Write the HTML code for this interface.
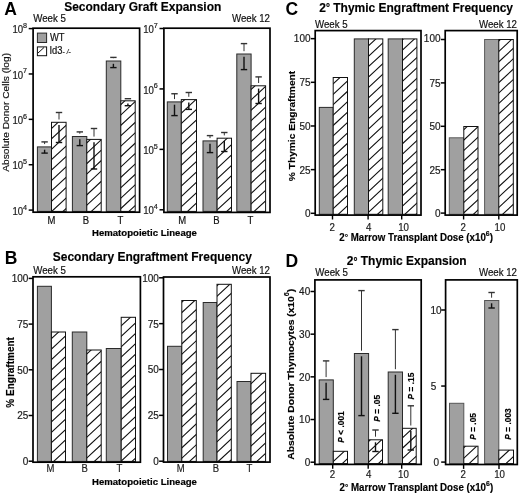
<!DOCTYPE html>
<html><head><meta charset="utf-8"><style>
html,body{margin:0;padding:0;background:#fff;}
svg{display:block;will-change:transform;filter:blur(0.3px);}
text{font-family:"Liberation Sans", sans-serif;}
</style></head><body>
<svg width="520" height="496" viewBox="0 0 520 496">
<defs><clipPath id="c1"><rect x="51.50" y="122.30" width="14.60" height="89.10"/></clipPath><clipPath id="c2"><rect x="86.80" y="139.40" width="14.40" height="72.00"/></clipPath><clipPath id="c3"><rect x="120.80" y="100.80" width="14.40" height="110.60"/></clipPath><clipPath id="c4"><rect x="181.30" y="99.60" width="15.20" height="111.80"/></clipPath><clipPath id="c5"><rect x="217.10" y="138.20" width="14.40" height="73.20"/></clipPath><clipPath id="c6"><rect x="251.10" y="85.80" width="14.50" height="125.60"/></clipPath><clipPath id="c7"><rect x="51.40" y="332.00" width="14.10" height="129.40"/></clipPath><clipPath id="c8"><rect x="86.80" y="350.00" width="14.40" height="111.40"/></clipPath><clipPath id="c9"><rect x="121.20" y="317.30" width="14.30" height="144.10"/></clipPath><clipPath id="c10"><rect x="181.80" y="300.50" width="14.50" height="160.90"/></clipPath><clipPath id="c11"><rect x="217.00" y="284.30" width="14.30" height="177.10"/></clipPath><clipPath id="c12"><rect x="251.00" y="373.30" width="14.60" height="88.10"/></clipPath><clipPath id="c13"><rect x="333.20" y="77.50" width="14.30" height="136.80"/></clipPath><clipPath id="c14"><rect x="368.50" y="38.90" width="14.30" height="175.40"/></clipPath><clipPath id="c15"><rect x="402.50" y="38.90" width="14.40" height="175.40"/></clipPath><clipPath id="c16"><rect x="463.80" y="126.50" width="14.20" height="87.80"/></clipPath><clipPath id="c17"><rect x="498.80" y="39.50" width="14.50" height="174.80"/></clipPath><clipPath id="c18"><rect x="333.30" y="451.30" width="14.20" height="12.30"/></clipPath><clipPath id="c19"><rect x="368.60" y="439.80" width="13.90" height="23.80"/></clipPath><clipPath id="c20"><rect x="402.50" y="428.30" width="13.70" height="35.30"/></clipPath><clipPath id="c21"><rect x="463.80" y="446.20" width="14.20" height="17.40"/></clipPath><clipPath id="c22"><rect x="498.80" y="450.10" width="14.70" height="13.50"/></clipPath></defs>
<rect width="520" height="496" fill="#fff"/>
<text transform="translate(4.30 15.00)" font-size="17.5" font-weight="bold" fill="#000">A</text>
<text transform="translate(64.20 10.90) scale(1.0 1.08)" font-size="12.0" font-weight="bold" stroke="#000" stroke-width="0.15" fill="#000">Secondary Graft Expansion</text>
<text transform="translate(33.20 21.60) scale(1.0 1.18)" font-size="9.7" stroke="#111" stroke-width="0.18" fill="#111">Week 5</text>
<text transform="translate(270.00 21.80) scale(1.0 1.18)" font-size="9.7" stroke="#111" stroke-width="0.18" text-anchor="end" fill="#111">Week 12</text>
<text transform="translate(9.30 112.40) rotate(-90) scale(1.0 0.9)" font-size="10.2" stroke="#111" stroke-width="0.18" text-anchor="middle" fill="#111">Absolute Donor Cells (log)</text>
<text transform="translate(92.00 236.30) scale(1.0 1.04)" font-size="9.6" font-weight="bold" fill="#000" stroke="#000" stroke-width="0.2">Hematopoietic Lineage</text>
<rect x="37.40" y="146.90" width="14.10" height="64.50" fill="#a0a0a0" stroke="#2a2a2a" stroke-width="1.0"/>
<rect x="51.50" y="122.30" width="14.60" height="89.10" fill="#fff"/>
<path clip-path="url(#c1)" d="M50.50 118.97L67.10 103.54M50.50 129.37L67.10 113.94M50.50 139.77L67.10 124.34M50.50 150.17L67.10 134.74M50.50 160.57L67.10 145.14M50.50 170.97L67.10 155.54M50.50 181.37L67.10 165.94M50.50 191.77L67.10 176.34M50.50 202.17L67.10 186.74M50.50 212.57L67.10 197.14M50.50 222.97L67.10 207.54M50.50 233.37L67.10 217.94" stroke="#111" stroke-width="1.1" fill="none"/>
<rect x="51.50" y="122.30" width="14.60" height="89.10" fill="none" stroke="#111" stroke-width="1.0"/>
<rect x="72.40" y="136.50" width="14.40" height="74.90" fill="#a0a0a0" stroke="#2a2a2a" stroke-width="1.0"/>
<rect x="86.80" y="139.40" width="14.40" height="72.00" fill="#fff"/>
<path clip-path="url(#c2)" d="M85.80 133.36L102.20 118.11M85.80 143.76L102.20 128.51M85.80 154.16L102.20 138.91M85.80 164.56L102.20 149.31M85.80 174.96L102.20 159.71M85.80 185.36L102.20 170.11M85.80 195.76L102.20 180.51M85.80 206.16L102.20 190.91M85.80 216.56L102.20 201.31M85.80 226.96L102.20 211.71" stroke="#111" stroke-width="1.1" fill="none"/>
<rect x="86.80" y="139.40" width="14.40" height="72.00" fill="none" stroke="#111" stroke-width="1.0"/>
<rect x="106.30" y="61.00" width="14.50" height="150.40" fill="#a0a0a0" stroke="#2a2a2a" stroke-width="1.0"/>
<rect x="120.80" y="100.80" width="14.40" height="110.60" fill="#fff"/>
<path clip-path="url(#c3)" d="M119.80 95.10L136.20 79.85M119.80 105.50L136.20 90.25M119.80 115.90L136.20 100.65M119.80 126.30L136.20 111.05M119.80 136.70L136.20 121.45M119.80 147.10L136.20 131.85M119.80 157.50L136.20 142.25M119.80 167.90L136.20 152.65M119.80 178.30L136.20 163.05M119.80 188.70L136.20 173.45M119.80 199.10L136.20 183.85M119.80 209.50L136.20 194.25M119.80 219.90L136.20 204.65M119.80 230.30L136.20 215.05" stroke="#111" stroke-width="1.1" fill="none"/>
<rect x="120.80" y="100.80" width="14.40" height="110.60" fill="none" stroke="#111" stroke-width="1.0"/>
<line x1="44.60" y1="141.90" x2="44.60" y2="144.10" stroke="#333" stroke-width="1.0"/>
<line x1="41.40" y1="141.90" x2="47.80" y2="141.90" stroke="#333" stroke-width="1.4"/>
<line x1="44.60" y1="149.70" x2="44.60" y2="153.10" stroke="#111" stroke-width="1.4"/>
<line x1="41.40" y1="153.10" x2="47.80" y2="153.10" stroke="#111" stroke-width="1.4"/>
<line x1="59.00" y1="112.50" x2="59.00" y2="119.50" stroke="#333" stroke-width="1.0"/>
<line x1="55.80" y1="112.50" x2="62.20" y2="112.50" stroke="#333" stroke-width="1.4"/>
<line x1="59.00" y1="125.10" x2="59.00" y2="142.50" stroke="#111" stroke-width="1.4"/>
<line x1="55.80" y1="142.50" x2="62.20" y2="142.50" stroke="#111" stroke-width="1.4"/>
<line x1="79.80" y1="131.90" x2="79.80" y2="133.70" stroke="#333" stroke-width="1.0"/>
<line x1="76.60" y1="131.90" x2="83.00" y2="131.90" stroke="#333" stroke-width="1.4"/>
<line x1="79.80" y1="139.30" x2="79.80" y2="145.60" stroke="#111" stroke-width="1.4"/>
<line x1="76.60" y1="145.60" x2="83.00" y2="145.60" stroke="#111" stroke-width="1.4"/>
<line x1="94.00" y1="128.50" x2="94.00" y2="136.60" stroke="#333" stroke-width="1.0"/>
<line x1="90.80" y1="128.50" x2="97.20" y2="128.50" stroke="#333" stroke-width="1.4"/>
<line x1="94.00" y1="142.20" x2="94.00" y2="169.00" stroke="#111" stroke-width="1.4"/>
<line x1="90.80" y1="169.00" x2="97.20" y2="169.00" stroke="#111" stroke-width="1.4"/>
<line x1="113.40" y1="57.40" x2="113.40" y2="58.20" stroke="#333" stroke-width="1.0"/>
<line x1="110.20" y1="57.40" x2="116.60" y2="57.40" stroke="#333" stroke-width="1.4"/>
<line x1="113.40" y1="63.80" x2="113.40" y2="67.60" stroke="#111" stroke-width="1.4"/>
<line x1="110.20" y1="67.60" x2="116.60" y2="67.60" stroke="#111" stroke-width="1.4"/>
<line x1="124.70" y1="98.70" x2="131.10" y2="98.70" stroke="#333" stroke-width="1.4"/>
<line x1="127.90" y1="103.60" x2="127.90" y2="105.70" stroke="#111" stroke-width="1.4"/>
<line x1="124.70" y1="105.70" x2="131.10" y2="105.70" stroke="#111" stroke-width="1.4"/>
<rect x="33.10" y="28.20" width="106.50" height="184.00" fill="none" stroke="#000" stroke-width="1.7"/>
<line x1="28.70" y1="210.10" x2="33.10" y2="210.10" stroke="#000" stroke-width="1.5"/>
<text transform="translate(23.10 214.70) scale(1.0 1.1)" font-size="9.6" stroke="#1a1a1a" stroke-width="0.18" text-anchor="end" fill="#1a1a1a">10</text>
<text transform="translate(22.90 209.60) scale(1.0 1.08)" font-size="7.2" stroke="#1a1a1a" stroke-width="0.18" fill="#1a1a1a">4</text>
<line x1="28.70" y1="164.72" x2="33.10" y2="164.72" stroke="#000" stroke-width="1.5"/>
<text transform="translate(23.10 169.32) scale(1.0 1.1)" font-size="9.6" stroke="#1a1a1a" stroke-width="0.18" text-anchor="end" fill="#1a1a1a">10</text>
<text transform="translate(22.90 164.22) scale(1.0 1.08)" font-size="7.2" stroke="#1a1a1a" stroke-width="0.18" fill="#1a1a1a">5</text>
<line x1="28.70" y1="119.35" x2="33.10" y2="119.35" stroke="#000" stroke-width="1.5"/>
<text transform="translate(23.10 123.95) scale(1.0 1.1)" font-size="9.6" stroke="#1a1a1a" stroke-width="0.18" text-anchor="end" fill="#1a1a1a">10</text>
<text transform="translate(22.90 118.85) scale(1.0 1.08)" font-size="7.2" stroke="#1a1a1a" stroke-width="0.18" fill="#1a1a1a">6</text>
<line x1="28.70" y1="73.97" x2="33.10" y2="73.97" stroke="#000" stroke-width="1.5"/>
<text transform="translate(23.10 78.57) scale(1.0 1.1)" font-size="9.6" stroke="#1a1a1a" stroke-width="0.18" text-anchor="end" fill="#1a1a1a">10</text>
<text transform="translate(22.90 73.47) scale(1.0 1.08)" font-size="7.2" stroke="#1a1a1a" stroke-width="0.18" fill="#1a1a1a">7</text>
<line x1="28.70" y1="28.60" x2="33.10" y2="28.60" stroke="#000" stroke-width="1.5"/>
<text transform="translate(23.10 33.20) scale(1.0 1.1)" font-size="9.6" stroke="#1a1a1a" stroke-width="0.18" text-anchor="end" fill="#1a1a1a">10</text>
<text transform="translate(22.90 28.10) scale(1.0 1.08)" font-size="7.2" stroke="#1a1a1a" stroke-width="0.18" fill="#1a1a1a">8</text>
<text transform="translate(51.40 224.30) scale(1.0 1.08)" font-size="9.5" stroke="#111" stroke-width="0.18" text-anchor="middle" fill="#111">M</text>
<text transform="translate(85.80 224.30) scale(1.0 1.08)" font-size="9.5" stroke="#111" stroke-width="0.18" text-anchor="middle" fill="#111">B</text>
<text transform="translate(120.30 224.30) scale(1.0 1.08)" font-size="9.5" stroke="#111" stroke-width="0.18" text-anchor="middle" fill="#111">T</text>
<rect x="37.40" y="33.10" width="9.20" height="9.40" fill="#a0a0a0" stroke="#2a2a2a" stroke-width="1.0"/>
<rect x="37.40" y="46.90" width="9.20" height="8.80" fill="#fff" stroke="#111" stroke-width="1.0"/>
<line x1="38.00" y1="53.00" x2="44.00" y2="47.50" stroke="#111" stroke-width="1.0"/>
<text transform="translate(49.90 41.10) scale(1.0 1.12)" font-size="9.4" stroke="#111" stroke-width="0.18" fill="#111">WT</text>
<text transform="translate(49.40 53.90) scale(1.0 1.12)" font-size="9.4" stroke="#111" stroke-width="0.18" fill="#111">Id3</text>
<text transform="translate(62.60 53.90) scale(1.0 1.08)" font-size="6.5" stroke="#111" stroke-width="0.18" fill="#111" font-style="italic">-</text>
<text transform="translate(66.80 53.90) scale(1.0 1.08)" font-size="6.5" stroke="#111" stroke-width="0.18" fill="#111" font-style="italic">/</text>
<text transform="translate(68.40 53.90) scale(1.0 1.08)" font-size="6.5" stroke="#111" stroke-width="0.18" fill="#111" font-style="italic">-</text>
<rect x="167.30" y="101.90" width="14.00" height="109.50" fill="#a0a0a0" stroke="#2a2a2a" stroke-width="1.0"/>
<rect x="181.30" y="99.60" width="15.20" height="111.80" fill="#fff"/>
<path clip-path="url(#c4)" d="M180.30 93.32L197.50 77.33M180.30 103.72L197.50 87.73M180.30 114.12L197.50 98.13M180.30 124.52L197.50 108.53M180.30 134.92L197.50 118.93M180.30 145.32L197.50 129.33M180.30 155.72L197.50 139.73M180.30 166.12L197.50 150.13M180.30 176.52L197.50 160.53M180.30 186.92L197.50 170.93M180.30 197.32L197.50 181.33M180.30 207.72L197.50 191.73M180.30 218.12L197.50 202.13M180.30 228.52L197.50 212.53" stroke="#111" stroke-width="1.1" fill="none"/>
<rect x="181.30" y="99.60" width="15.20" height="111.80" fill="none" stroke="#111" stroke-width="1.0"/>
<rect x="203.00" y="140.90" width="14.10" height="70.50" fill="#a0a0a0" stroke="#2a2a2a" stroke-width="1.0"/>
<rect x="217.10" y="138.20" width="14.40" height="73.20" fill="#fff"/>
<path clip-path="url(#c5)" d="M216.10 138.14L232.50 122.89M216.10 148.54L232.50 133.29M216.10 158.94L232.50 143.69M216.10 169.34L232.50 154.09M216.10 179.74L232.50 164.49M216.10 190.14L232.50 174.89M216.10 200.54L232.50 185.29M216.10 210.94L232.50 195.69M216.10 221.34L232.50 206.09M216.10 231.74L232.50 216.49" stroke="#111" stroke-width="1.1" fill="none"/>
<rect x="217.10" y="138.20" width="14.40" height="73.20" fill="none" stroke="#111" stroke-width="1.0"/>
<rect x="236.80" y="54.00" width="14.30" height="157.40" fill="#a0a0a0" stroke="#2a2a2a" stroke-width="1.0"/>
<rect x="251.10" y="85.80" width="14.50" height="125.60" fill="#fff"/>
<path clip-path="url(#c6)" d="M250.10 79.98L266.60 64.64M250.10 90.38L266.60 75.04M250.10 100.78L266.60 85.44M250.10 111.18L266.60 95.84M250.10 121.58L266.60 106.24M250.10 131.98L266.60 116.64M250.10 142.38L266.60 127.04M250.10 152.78L266.60 137.44M250.10 163.18L266.60 147.84M250.10 173.58L266.60 158.24M250.10 183.98L266.60 168.64M250.10 194.38L266.60 179.04M250.10 204.78L266.60 189.44M250.10 215.18L266.60 199.84M250.10 225.58L266.60 210.24M250.10 235.98L266.60 220.64" stroke="#111" stroke-width="1.1" fill="none"/>
<rect x="251.10" y="85.80" width="14.50" height="125.60" fill="none" stroke="#111" stroke-width="1.0"/>
<line x1="174.50" y1="93.75" x2="174.50" y2="99.10" stroke="#333" stroke-width="1.0"/>
<line x1="171.30" y1="93.75" x2="177.70" y2="93.75" stroke="#333" stroke-width="1.4"/>
<line x1="174.50" y1="104.70" x2="174.50" y2="115.60" stroke="#111" stroke-width="1.4"/>
<line x1="171.30" y1="115.60" x2="177.70" y2="115.60" stroke="#111" stroke-width="1.4"/>
<line x1="188.80" y1="92.50" x2="188.80" y2="96.80" stroke="#333" stroke-width="1.0"/>
<line x1="185.60" y1="92.50" x2="192.00" y2="92.50" stroke="#333" stroke-width="1.4"/>
<line x1="188.80" y1="102.40" x2="188.80" y2="109.40" stroke="#111" stroke-width="1.4"/>
<line x1="185.60" y1="109.40" x2="192.00" y2="109.40" stroke="#111" stroke-width="1.4"/>
<line x1="210.00" y1="135.60" x2="210.00" y2="138.10" stroke="#333" stroke-width="1.0"/>
<line x1="206.80" y1="135.60" x2="213.20" y2="135.60" stroke="#333" stroke-width="1.4"/>
<line x1="210.00" y1="143.70" x2="210.00" y2="152.60" stroke="#111" stroke-width="1.4"/>
<line x1="206.80" y1="152.60" x2="213.20" y2="152.60" stroke="#111" stroke-width="1.4"/>
<line x1="224.30" y1="132.50" x2="224.30" y2="135.40" stroke="#333" stroke-width="1.0"/>
<line x1="221.10" y1="132.50" x2="227.50" y2="132.50" stroke="#333" stroke-width="1.4"/>
<line x1="224.30" y1="141.00" x2="224.30" y2="151.50" stroke="#111" stroke-width="1.4"/>
<line x1="221.10" y1="151.50" x2="227.50" y2="151.50" stroke="#111" stroke-width="1.4"/>
<line x1="244.00" y1="43.60" x2="244.00" y2="51.20" stroke="#333" stroke-width="1.0"/>
<line x1="240.80" y1="43.60" x2="247.20" y2="43.60" stroke="#333" stroke-width="1.4"/>
<line x1="244.00" y1="56.80" x2="244.00" y2="69.60" stroke="#111" stroke-width="1.4"/>
<line x1="240.80" y1="69.60" x2="247.20" y2="69.60" stroke="#111" stroke-width="1.4"/>
<line x1="258.60" y1="76.90" x2="258.60" y2="83.00" stroke="#333" stroke-width="1.0"/>
<line x1="255.40" y1="76.90" x2="261.80" y2="76.90" stroke="#333" stroke-width="1.4"/>
<line x1="258.60" y1="88.60" x2="258.60" y2="103.50" stroke="#111" stroke-width="1.4"/>
<line x1="255.40" y1="103.50" x2="261.80" y2="103.50" stroke="#111" stroke-width="1.4"/>
<rect x="163.90" y="28.20" width="106.10" height="184.20" fill="none" stroke="#000" stroke-width="1.7"/>
<line x1="159.50" y1="209.80" x2="163.90" y2="209.80" stroke="#000" stroke-width="1.5"/>
<text transform="translate(153.90 214.40) scale(1.0 1.1)" font-size="9.6" stroke="#1a1a1a" stroke-width="0.18" text-anchor="end" fill="#1a1a1a">10</text>
<text transform="translate(153.70 209.30) scale(1.0 1.08)" font-size="7.2" stroke="#1a1a1a" stroke-width="0.18" fill="#1a1a1a">4</text>
<line x1="159.50" y1="149.37" x2="163.90" y2="149.37" stroke="#000" stroke-width="1.5"/>
<text transform="translate(153.90 153.97) scale(1.0 1.1)" font-size="9.6" stroke="#1a1a1a" stroke-width="0.18" text-anchor="end" fill="#1a1a1a">10</text>
<text transform="translate(153.70 148.87) scale(1.0 1.08)" font-size="7.2" stroke="#1a1a1a" stroke-width="0.18" fill="#1a1a1a">5</text>
<line x1="159.50" y1="88.93" x2="163.90" y2="88.93" stroke="#000" stroke-width="1.5"/>
<text transform="translate(153.90 93.53) scale(1.0 1.1)" font-size="9.6" stroke="#1a1a1a" stroke-width="0.18" text-anchor="end" fill="#1a1a1a">10</text>
<text transform="translate(153.70 88.43) scale(1.0 1.08)" font-size="7.2" stroke="#1a1a1a" stroke-width="0.18" fill="#1a1a1a">6</text>
<line x1="159.50" y1="28.50" x2="163.90" y2="28.50" stroke="#000" stroke-width="1.5"/>
<text transform="translate(153.90 33.10) scale(1.0 1.1)" font-size="9.6" stroke="#1a1a1a" stroke-width="0.18" text-anchor="end" fill="#1a1a1a">10</text>
<text transform="translate(153.70 28.00) scale(1.0 1.08)" font-size="7.2" stroke="#1a1a1a" stroke-width="0.18" fill="#1a1a1a">7</text>
<text transform="translate(182.20 224.30) scale(1.0 1.08)" font-size="9.5" stroke="#111" stroke-width="0.18" text-anchor="middle" fill="#111">M</text>
<text transform="translate(216.30 224.30) scale(1.0 1.08)" font-size="9.5" stroke="#111" stroke-width="0.18" text-anchor="middle" fill="#111">B</text>
<text transform="translate(250.50 224.30) scale(1.0 1.08)" font-size="9.5" stroke="#111" stroke-width="0.18" text-anchor="middle" fill="#111">T</text>
<text transform="translate(4.80 264.20)" font-size="17.5" font-weight="bold" fill="#000">B</text>
<text transform="translate(52.80 261.40) scale(1.0 1.08)" font-size="12.0" font-weight="bold" stroke="#000" stroke-width="0.15" fill="#000">Secondary Engraftment Frequency</text>
<text transform="translate(33.20 274.00) scale(1.0 1.18)" font-size="9.7" stroke="#111" stroke-width="0.18" fill="#111">Week 5</text>
<text transform="translate(270.00 274.00) scale(1.0 1.18)" font-size="9.7" stroke="#111" stroke-width="0.18" text-anchor="end" fill="#111">Week 12</text>
<text transform="translate(13.90 372.40) rotate(-90)" font-size="10" font-weight="bold" stroke="#000" stroke-width="0.15" text-anchor="middle" fill="#000">% Engraftment</text>
<text transform="translate(92.00 485.00) scale(1.0 1.04)" font-size="9.6" font-weight="bold" fill="#000" stroke="#000" stroke-width="0.2">Hematopoietic Lineage</text>
<rect x="37.40" y="286.30" width="14.00" height="175.10" fill="#a0a0a0" stroke="#2a2a2a" stroke-width="1.0"/>
<rect x="51.40" y="332.00" width="14.10" height="129.40" fill="#fff"/>
<path clip-path="url(#c7)" d="M50.40 329.27L66.50 314.29M50.40 339.67L66.50 324.69M50.40 350.07L66.50 335.09M50.40 360.47L66.50 345.49M50.40 370.87L66.50 355.89M50.40 381.27L66.50 366.29M50.40 391.67L66.50 376.69M50.40 402.07L66.50 387.09M50.40 412.47L66.50 397.49M50.40 422.87L66.50 407.89M50.40 433.27L66.50 418.29M50.40 443.67L66.50 428.69M50.40 454.07L66.50 439.09M50.40 464.47L66.50 449.49M50.40 474.87L66.50 459.89M50.40 485.27L66.50 470.29" stroke="#111" stroke-width="1.1" fill="none"/>
<rect x="51.40" y="332.00" width="14.10" height="129.40" fill="none" stroke="#111" stroke-width="1.0"/>
<rect x="72.30" y="332.00" width="14.50" height="129.40" fill="#a0a0a0" stroke="#2a2a2a" stroke-width="1.0"/>
<rect x="86.80" y="350.00" width="14.40" height="111.40" fill="#fff"/>
<path clip-path="url(#c8)" d="M85.80 344.54L102.20 329.29M85.80 354.94L102.20 339.69M85.80 365.34L102.20 350.09M85.80 375.74L102.20 360.49M85.80 386.14L102.20 370.89M85.80 396.54L102.20 381.29M85.80 406.94L102.20 391.69M85.80 417.34L102.20 402.09M85.80 427.74L102.20 412.49M85.80 438.14L102.20 422.89M85.80 448.54L102.20 433.29M85.80 458.94L102.20 443.69M85.80 469.34L102.20 454.09M85.80 479.74L102.20 464.49" stroke="#111" stroke-width="1.1" fill="none"/>
<rect x="86.80" y="350.00" width="14.40" height="111.40" fill="none" stroke="#111" stroke-width="1.0"/>
<rect x="106.30" y="348.50" width="14.90" height="112.90" fill="#a0a0a0" stroke="#2a2a2a" stroke-width="1.0"/>
<rect x="121.20" y="317.30" width="14.30" height="144.10" fill="#fff"/>
<path clip-path="url(#c9)" d="M120.20 316.43L136.50 301.27M120.20 326.83L136.50 311.67M120.20 337.23L136.50 322.07M120.20 347.63L136.50 332.47M120.20 358.03L136.50 342.87M120.20 368.43L136.50 353.27M120.20 378.83L136.50 363.67M120.20 389.23L136.50 374.07M120.20 399.63L136.50 384.47M120.20 410.03L136.50 394.87M120.20 420.43L136.50 405.27M120.20 430.83L136.50 415.67M120.20 441.23L136.50 426.07M120.20 451.63L136.50 436.47M120.20 462.03L136.50 446.87M120.20 472.43L136.50 457.27M120.20 482.83L136.50 467.67" stroke="#111" stroke-width="1.1" fill="none"/>
<rect x="121.20" y="317.30" width="14.30" height="144.10" fill="none" stroke="#111" stroke-width="1.0"/>
<rect x="33.00" y="276.80" width="107.40" height="185.40" fill="none" stroke="#000" stroke-width="1.7"/>
<line x1="28.60" y1="461.20" x2="33.00" y2="461.20" stroke="#000" stroke-width="1.5"/>
<text transform="translate(28.30 465.15) scale(1.0 1.04)" font-size="10.0" stroke="#1a1a1a" stroke-width="0.18" text-anchor="end" fill="#1a1a1a">0</text>
<line x1="28.60" y1="415.50" x2="33.00" y2="415.50" stroke="#000" stroke-width="1.5"/>
<text transform="translate(28.30 419.45) scale(1.0 1.04)" font-size="10.0" stroke="#1a1a1a" stroke-width="0.18" text-anchor="end" fill="#1a1a1a">25</text>
<line x1="28.60" y1="369.80" x2="33.00" y2="369.80" stroke="#000" stroke-width="1.5"/>
<text transform="translate(28.30 373.75) scale(1.0 1.04)" font-size="10.0" stroke="#1a1a1a" stroke-width="0.18" text-anchor="end" fill="#1a1a1a">50</text>
<line x1="28.60" y1="324.10" x2="33.00" y2="324.10" stroke="#000" stroke-width="1.5"/>
<text transform="translate(28.30 328.05) scale(1.0 1.04)" font-size="10.0" stroke="#1a1a1a" stroke-width="0.18" text-anchor="end" fill="#1a1a1a">75</text>
<line x1="28.60" y1="278.40" x2="33.00" y2="278.40" stroke="#000" stroke-width="1.5"/>
<text transform="translate(28.30 282.35) scale(1.0 1.04)" font-size="10.0" stroke="#1a1a1a" stroke-width="0.18" text-anchor="end" fill="#1a1a1a">100</text>
<text transform="translate(50.40 471.90) scale(1.0 1.08)" font-size="9.5" stroke="#222" stroke-width="0.18" text-anchor="middle" fill="#222">M</text>
<text transform="translate(84.60 471.90) scale(1.0 1.08)" font-size="9.5" stroke="#222" stroke-width="0.18" text-anchor="middle" fill="#222">B</text>
<text transform="translate(119.50 471.90) scale(1.0 1.08)" font-size="9.5" stroke="#222" stroke-width="0.18" text-anchor="middle" fill="#222">T</text>
<rect x="167.50" y="346.30" width="14.30" height="115.10" fill="#a0a0a0" stroke="#2a2a2a" stroke-width="1.0"/>
<rect x="181.80" y="300.50" width="14.50" height="160.90" fill="#fff"/>
<path clip-path="url(#c10)" d="M180.80 292.76L197.30 277.41M180.80 303.16L197.30 287.81M180.80 313.56L197.30 298.21M180.80 323.96L197.30 308.61M180.80 334.36L197.30 319.01M180.80 344.76L197.30 329.41M180.80 355.16L197.30 339.81M180.80 365.56L197.30 350.21M180.80 375.96L197.30 360.61M180.80 386.36L197.30 371.01M180.80 396.76L197.30 381.41M180.80 407.16L197.30 391.81M180.80 417.56L197.30 402.21M180.80 427.96L197.30 412.61M180.80 438.36L197.30 423.01M180.80 448.76L197.30 433.41M180.80 459.16L197.30 443.81M180.80 469.56L197.30 454.21M180.80 479.96L197.30 464.61" stroke="#111" stroke-width="1.1" fill="none"/>
<rect x="181.80" y="300.50" width="14.50" height="160.90" fill="none" stroke="#111" stroke-width="1.0"/>
<rect x="203.20" y="302.50" width="13.80" height="158.90" fill="#a0a0a0" stroke="#2a2a2a" stroke-width="1.0"/>
<rect x="217.00" y="284.30" width="14.30" height="177.10" fill="#fff"/>
<path clip-path="url(#c11)" d="M216.00 276.35L232.30 261.19M216.00 286.75L232.30 271.59M216.00 297.15L232.30 281.99M216.00 307.55L232.30 292.39M216.00 317.95L232.30 302.79M216.00 328.35L232.30 313.19M216.00 338.75L232.30 323.59M216.00 349.15L232.30 333.99M216.00 359.55L232.30 344.39M216.00 369.95L232.30 354.79M216.00 380.35L232.30 365.19M216.00 390.75L232.30 375.59M216.00 401.15L232.30 385.99M216.00 411.55L232.30 396.39M216.00 421.95L232.30 406.79M216.00 432.35L232.30 417.19M216.00 442.75L232.30 427.59M216.00 453.15L232.30 437.99M216.00 463.55L232.30 448.39M216.00 473.95L232.30 458.79M216.00 484.35L232.30 469.19" stroke="#111" stroke-width="1.1" fill="none"/>
<rect x="217.00" y="284.30" width="14.30" height="177.10" fill="none" stroke="#111" stroke-width="1.0"/>
<rect x="237.00" y="381.50" width="14.00" height="79.90" fill="#a0a0a0" stroke="#2a2a2a" stroke-width="1.0"/>
<rect x="251.00" y="373.30" width="14.60" height="88.10" fill="#fff"/>
<path clip-path="url(#c12)" d="M250.00 374.17L266.60 358.74M250.00 384.57L266.60 369.14M250.00 394.97L266.60 379.54M250.00 405.37L266.60 389.94M250.00 415.77L266.60 400.34M250.00 426.17L266.60 410.74M250.00 436.57L266.60 421.14M250.00 446.97L266.60 431.54M250.00 457.37L266.60 441.94M250.00 467.77L266.60 452.34M250.00 478.17L266.60 462.74" stroke="#111" stroke-width="1.1" fill="none"/>
<rect x="251.00" y="373.30" width="14.60" height="88.10" fill="none" stroke="#111" stroke-width="1.0"/>
<rect x="163.50" y="277.00" width="106.50" height="185.10" fill="none" stroke="#000" stroke-width="1.7"/>
<line x1="159.10" y1="461.20" x2="163.50" y2="461.20" stroke="#000" stroke-width="1.5"/>
<text transform="translate(158.80 465.15) scale(1.0 1.04)" font-size="10.0" stroke="#1a1a1a" stroke-width="0.18" text-anchor="end" fill="#1a1a1a">0</text>
<line x1="159.10" y1="415.35" x2="163.50" y2="415.35" stroke="#000" stroke-width="1.5"/>
<text transform="translate(158.80 419.30) scale(1.0 1.04)" font-size="10.0" stroke="#1a1a1a" stroke-width="0.18" text-anchor="end" fill="#1a1a1a">25</text>
<line x1="159.10" y1="369.50" x2="163.50" y2="369.50" stroke="#000" stroke-width="1.5"/>
<text transform="translate(158.80 373.45) scale(1.0 1.04)" font-size="10.0" stroke="#1a1a1a" stroke-width="0.18" text-anchor="end" fill="#1a1a1a">50</text>
<line x1="159.10" y1="323.65" x2="163.50" y2="323.65" stroke="#000" stroke-width="1.5"/>
<text transform="translate(158.80 327.60) scale(1.0 1.04)" font-size="10.0" stroke="#1a1a1a" stroke-width="0.18" text-anchor="end" fill="#1a1a1a">75</text>
<line x1="159.10" y1="277.80" x2="163.50" y2="277.80" stroke="#000" stroke-width="1.5"/>
<text transform="translate(158.80 281.75) scale(1.0 1.04)" font-size="10.0" stroke="#1a1a1a" stroke-width="0.18" text-anchor="end" fill="#1a1a1a">100</text>
<text transform="translate(180.80 471.90) scale(1.0 1.08)" font-size="9.5" stroke="#222" stroke-width="0.18" text-anchor="middle" fill="#222">M</text>
<text transform="translate(215.80 471.90) scale(1.0 1.08)" font-size="9.5" stroke="#222" stroke-width="0.18" text-anchor="middle" fill="#222">B</text>
<text transform="translate(249.30 471.90) scale(1.0 1.08)" font-size="9.5" stroke="#222" stroke-width="0.18" text-anchor="middle" fill="#222">T</text>
<text transform="translate(285.50 14.50)" font-size="17.5" font-weight="bold" fill="#000">C</text>
<text transform="translate(319.30 11.60) scale(1.0 1.08)" font-size="12.0" font-weight="bold" stroke="#000" stroke-width="0.15" fill="#000">2<tspan font-size="10" dy="-0.4" stroke="#000" stroke-width="0.22">°</tspan><tspan dy="0.4"> Thymic Engraftment Frequency</tspan></text>
<text transform="translate(315.00 28.00) scale(1.0 1.18)" font-size="9.7" stroke="#111" stroke-width="0.18" fill="#111">Week 5</text>
<text transform="translate(517.00 28.00) scale(1.0 1.18)" font-size="9.7" stroke="#111" stroke-width="0.18" text-anchor="end" fill="#111">Week 12</text>
<text transform="translate(295.40 126.00) rotate(-90) scale(1.0 0.95)" font-size="10.2" font-weight="bold" stroke="#000" stroke-width="0.15" text-anchor="middle" fill="#000">% Thymic Engraftment</text>
<text transform="translate(339.30 240.60) scale(1.0 1.1)" font-size="9.74" font-weight="bold" stroke="#000" stroke-width="0.15" fill="#000">2<tspan font-size="8.4" dy="-0.3">°</tspan><tspan dy="0.3"> Marrow Transplant Dose (x10</tspan><tspan font-size="7.0" dy="-4.6">6</tspan><tspan dy="4.6">)</tspan></text>
<rect x="319.30" y="107.40" width="13.90" height="106.90" fill="#a0a0a0" stroke="#2a2a2a" stroke-width="1.0"/>
<rect x="333.20" y="77.50" width="14.30" height="136.80" fill="#fff"/>
<path clip-path="url(#c13)" d="M332.20 74.37L348.50 59.21M332.20 84.77L348.50 69.61M332.20 95.17L348.50 80.01M332.20 105.57L348.50 90.41M332.20 115.97L348.50 100.81M332.20 126.37L348.50 111.21M332.20 136.77L348.50 121.61M332.20 147.17L348.50 132.01M332.20 157.57L348.50 142.41M332.20 167.97L348.50 152.81M332.20 178.37L348.50 163.21M332.20 188.77L348.50 173.61M332.20 199.17L348.50 184.01M332.20 209.57L348.50 194.41M332.20 219.97L348.50 204.81M332.20 230.37L348.50 215.21" stroke="#111" stroke-width="1.1" fill="none"/>
<rect x="333.20" y="77.50" width="14.30" height="136.80" fill="none" stroke="#111" stroke-width="1.0"/>
<rect x="354.30" y="38.90" width="14.20" height="175.40" fill="#a0a0a0" stroke="#2a2a2a" stroke-width="1.0"/>
<rect x="368.50" y="38.90" width="14.30" height="175.40" fill="#fff"/>
<path clip-path="url(#c14)" d="M367.50 36.35L383.80 21.19M367.50 46.75L383.80 31.59M367.50 57.15L383.80 41.99M367.50 67.55L383.80 52.39M367.50 77.95L383.80 62.79M367.50 88.35L383.80 73.19M367.50 98.75L383.80 83.59M367.50 109.15L383.80 93.99M367.50 119.55L383.80 104.39M367.50 129.95L383.80 114.79M367.50 140.35L383.80 125.19M367.50 150.75L383.80 135.59M367.50 161.15L383.80 145.99M367.50 171.55L383.80 156.39M367.50 181.95L383.80 166.79M367.50 192.35L383.80 177.19M367.50 202.75L383.80 187.59M367.50 213.15L383.80 197.99M367.50 223.55L383.80 208.39M367.50 233.95L383.80 218.79" stroke="#111" stroke-width="1.1" fill="none"/>
<rect x="368.50" y="38.90" width="14.30" height="175.40" fill="none" stroke="#111" stroke-width="1.0"/>
<rect x="388.20" y="38.90" width="14.30" height="175.40" fill="#a0a0a0" stroke="#2a2a2a" stroke-width="1.0"/>
<rect x="402.50" y="38.90" width="14.40" height="175.40" fill="#fff"/>
<path clip-path="url(#c15)" d="M401.50 30.19L417.90 14.94M401.50 40.59L417.90 25.34M401.50 50.99L417.90 35.74M401.50 61.39L417.90 46.14M401.50 71.79L417.90 56.54M401.50 82.19L417.90 66.94M401.50 92.59L417.90 77.34M401.50 102.99L417.90 87.74M401.50 113.39L417.90 98.14M401.50 123.79L417.90 108.54M401.50 134.19L417.90 118.94M401.50 144.59L417.90 129.34M401.50 154.99L417.90 139.74M401.50 165.39L417.90 150.14M401.50 175.79L417.90 160.54M401.50 186.19L417.90 170.94M401.50 196.59L417.90 181.34M401.50 206.99L417.90 191.74M401.50 217.39L417.90 202.14M401.50 227.79L417.90 212.54M401.50 238.19L417.90 222.94" stroke="#111" stroke-width="1.1" fill="none"/>
<rect x="402.50" y="38.90" width="14.40" height="175.40" fill="none" stroke="#111" stroke-width="1.0"/>
<rect x="315.20" y="30.60" width="105.80" height="184.50" fill="none" stroke="#000" stroke-width="1.7"/>
<line x1="310.80" y1="213.30" x2="315.20" y2="213.30" stroke="#000" stroke-width="1.5"/>
<text transform="translate(310.50 217.25) scale(1.0 1.04)" font-size="10.0" stroke="#1a1a1a" stroke-width="0.18" text-anchor="end" fill="#1a1a1a">0</text>
<line x1="310.80" y1="169.64" x2="315.20" y2="169.64" stroke="#000" stroke-width="1.5"/>
<text transform="translate(310.50 173.59) scale(1.0 1.04)" font-size="10.0" stroke="#1a1a1a" stroke-width="0.18" text-anchor="end" fill="#1a1a1a">25</text>
<line x1="310.80" y1="125.98" x2="315.20" y2="125.98" stroke="#000" stroke-width="1.5"/>
<text transform="translate(310.50 129.93) scale(1.0 1.04)" font-size="10.0" stroke="#1a1a1a" stroke-width="0.18" text-anchor="end" fill="#1a1a1a">50</text>
<line x1="310.80" y1="82.31" x2="315.20" y2="82.31" stroke="#000" stroke-width="1.5"/>
<text transform="translate(310.50 86.26) scale(1.0 1.04)" font-size="10.0" stroke="#1a1a1a" stroke-width="0.18" text-anchor="end" fill="#1a1a1a">75</text>
<line x1="310.80" y1="38.65" x2="315.20" y2="38.65" stroke="#000" stroke-width="1.5"/>
<text transform="translate(310.50 41.85) scale(1.0 1.04)" font-size="10.0" stroke="#1a1a1a" stroke-width="0.18" text-anchor="end" fill="#1a1a1a">100</text>
<line x1="332.50" y1="215.10" x2="332.50" y2="219.50" stroke="#000" stroke-width="1.4"/>
<text transform="translate(332.20 230.60) scale(1.0 1.08)" font-size="9.7" stroke="#222" stroke-width="0.18" text-anchor="middle" fill="#222">2</text>
<line x1="368.10" y1="215.10" x2="368.10" y2="219.50" stroke="#000" stroke-width="1.4"/>
<text transform="translate(368.80 230.60) scale(1.0 1.08)" font-size="9.7" stroke="#222" stroke-width="0.18" text-anchor="middle" fill="#222">4</text>
<line x1="401.70" y1="215.10" x2="401.70" y2="219.50" stroke="#000" stroke-width="1.4"/>
<text transform="translate(403.60 230.60) scale(1.0 1.08)" font-size="9.7" stroke="#222" stroke-width="0.18" text-anchor="middle" fill="#222">10</text>
<rect x="449.30" y="137.80" width="14.50" height="76.50" fill="#a0a0a0" stroke="#5a5a5a" stroke-width="1.0"/>
<rect x="463.80" y="126.50" width="14.20" height="87.80" fill="#fff"/>
<path clip-path="url(#c16)" d="M462.80 120.18L479.00 105.12M462.80 130.58L479.00 115.52M462.80 140.98L479.00 125.92M462.80 151.38L479.00 136.32M462.80 161.78L479.00 146.72M462.80 172.18L479.00 157.12M462.80 182.58L479.00 167.51M462.80 192.98L479.00 177.91M462.80 203.38L479.00 188.31M462.80 213.78L479.00 198.71M462.80 224.18L479.00 209.11M462.80 234.58L479.00 219.51" stroke="#111" stroke-width="1.1" fill="none"/>
<rect x="463.80" y="126.50" width="14.20" height="87.80" fill="none" stroke="#111" stroke-width="1.0"/>
<rect x="484.60" y="39.50" width="14.20" height="174.80" fill="#a0a0a0" stroke="#5a5a5a" stroke-width="1.0"/>
<rect x="498.80" y="39.50" width="14.50" height="174.80" fill="#fff"/>
<path clip-path="url(#c17)" d="M497.80 31.54L514.30 16.19M497.80 41.94L514.30 26.59M497.80 52.34L514.30 36.99M497.80 62.74L514.30 47.39M497.80 73.14L514.30 57.79M497.80 83.54L514.30 68.19M497.80 93.94L514.30 78.59M497.80 104.34L514.30 88.99M497.80 114.74L514.30 99.39M497.80 125.14L514.30 109.79M497.80 135.54L514.30 120.19M497.80 145.94L514.30 130.59M497.80 156.34L514.30 140.99M497.80 166.74L514.30 151.39M497.80 177.14L514.30 161.79M497.80 187.54L514.30 172.19M497.80 197.94L514.30 182.59M497.80 208.34L514.30 192.99M497.80 218.74L514.30 203.39M497.80 229.14L514.30 213.79" stroke="#111" stroke-width="1.1" fill="none"/>
<rect x="498.80" y="39.50" width="14.50" height="174.80" fill="none" stroke="#111" stroke-width="1.0"/>
<rect x="445.20" y="30.60" width="72.00" height="184.50" fill="none" stroke="#000" stroke-width="1.7"/>
<line x1="440.80" y1="213.10" x2="445.20" y2="213.10" stroke="#000" stroke-width="1.5"/>
<text transform="translate(440.50 217.05) scale(1.0 1.04)" font-size="10.0" stroke="#1a1a1a" stroke-width="0.18" text-anchor="end" fill="#1a1a1a">0</text>
<line x1="440.80" y1="169.70" x2="445.20" y2="169.70" stroke="#000" stroke-width="1.5"/>
<text transform="translate(440.50 173.65) scale(1.0 1.04)" font-size="10.0" stroke="#1a1a1a" stroke-width="0.18" text-anchor="end" fill="#1a1a1a">25</text>
<line x1="440.80" y1="126.30" x2="445.20" y2="126.30" stroke="#000" stroke-width="1.5"/>
<text transform="translate(440.50 130.25) scale(1.0 1.04)" font-size="10.0" stroke="#1a1a1a" stroke-width="0.18" text-anchor="end" fill="#1a1a1a">50</text>
<line x1="440.80" y1="82.90" x2="445.20" y2="82.90" stroke="#000" stroke-width="1.5"/>
<text transform="translate(440.50 86.85) scale(1.0 1.04)" font-size="10.0" stroke="#1a1a1a" stroke-width="0.18" text-anchor="end" fill="#1a1a1a">75</text>
<line x1="440.80" y1="39.50" x2="445.20" y2="39.50" stroke="#000" stroke-width="1.5"/>
<text transform="translate(440.50 42.05) scale(1.0 1.04)" font-size="10.0" stroke="#1a1a1a" stroke-width="0.18" text-anchor="end" fill="#1a1a1a">100</text>
<line x1="463.60" y1="215.10" x2="463.60" y2="219.50" stroke="#000" stroke-width="1.4"/>
<text transform="translate(463.10 230.60) scale(1.0 1.08)" font-size="9.7" stroke="#222" stroke-width="0.18" text-anchor="middle" fill="#222">2</text>
<line x1="498.80" y1="215.10" x2="498.80" y2="219.50" stroke="#000" stroke-width="1.4"/>
<text transform="translate(500.00 230.60) scale(1.0 1.08)" font-size="9.7" stroke="#222" stroke-width="0.18" text-anchor="middle" fill="#222">10</text>
<text transform="translate(285.50 266.60)" font-size="17.5" font-weight="bold" fill="#000">D</text>
<text transform="translate(346.80 265.20) scale(1.0 1.08)" font-size="12.0" font-weight="bold" stroke="#000" stroke-width="0.15" fill="#000">2<tspan font-size="10" dy="-0.4" stroke="#000" stroke-width="0.22">°</tspan><tspan dy="0.4"> Thymic Expansion</tspan></text>
<text transform="translate(315.30 276.00) scale(1.0 1.18)" font-size="9.7" stroke="#111" stroke-width="0.18" fill="#111">Week 5</text>
<text transform="translate(517.00 276.00) scale(1.0 1.18)" font-size="9.7" stroke="#111" stroke-width="0.18" text-anchor="end" fill="#111">Week 12</text>
<text transform="translate(294.00 374.20) rotate(-90) scale(1.0 0.88)" font-size="10.3" font-weight="bold" stroke="#000" stroke-width="0.15" text-anchor="middle" fill="#000">Absolute Donor Thymocytes (x10<tspan font-size="7.2" dy="-5.2">6</tspan><tspan dy="5.2">)</tspan></text>
<text transform="translate(339.50 490.80) scale(1.0 1.1)" font-size="9.74" font-weight="bold" stroke="#000" stroke-width="0.15" fill="#000">2<tspan font-size="8.4" dy="-0.3">°</tspan><tspan dy="0.3"> Marrow Transplant Dose (x10</tspan><tspan font-size="7.0" dy="-4.6">6</tspan><tspan dy="4.6">)</tspan></text>
<rect x="319.20" y="379.90" width="14.10" height="83.70" fill="#a0a0a0" stroke="#2a2a2a" stroke-width="1.0"/>
<rect x="333.30" y="451.30" width="14.20" height="12.30" fill="#fff"/>
<path clip-path="url(#c18)" d="M332.30 452.07L348.50 437.01M332.30 462.47L348.50 447.41M332.30 472.87L348.50 457.81M332.30 483.27L348.50 468.21" stroke="#111" stroke-width="1.1" fill="none"/>
<rect x="333.30" y="451.30" width="14.20" height="12.30" fill="none" stroke="#111" stroke-width="1.0"/>
<rect x="354.40" y="353.50" width="14.20" height="110.10" fill="#a0a0a0" stroke="#2a2a2a" stroke-width="1.0"/>
<rect x="368.60" y="439.80" width="13.90" height="23.80" fill="#fff"/>
<path clip-path="url(#c19)" d="M367.60 431.98L383.50 417.19M367.60 442.38L383.50 427.59M367.60 452.78L383.50 437.99M367.60 463.18L383.50 448.39M367.60 473.58L383.50 458.79M367.60 483.98L383.50 469.19" stroke="#111" stroke-width="1.1" fill="none"/>
<rect x="368.60" y="439.80" width="13.90" height="23.80" fill="none" stroke="#111" stroke-width="1.0"/>
<rect x="388.20" y="372.00" width="14.30" height="91.60" fill="#a0a0a0" stroke="#2a2a2a" stroke-width="1.0"/>
<rect x="402.50" y="428.30" width="13.70" height="35.30" fill="#fff"/>
<path clip-path="url(#c20)" d="M401.50 428.30L417.20 413.69M401.50 438.69L417.20 424.09M401.50 449.09L417.20 434.49M401.50 459.49L417.20 444.89M401.50 469.89L417.20 455.29M401.50 480.29L417.20 465.69" stroke="#111" stroke-width="1.1" fill="none"/>
<rect x="402.50" y="428.30" width="13.70" height="35.30" fill="none" stroke="#111" stroke-width="1.0"/>
<line x1="326.10" y1="360.90" x2="326.10" y2="377.10" stroke="#333" stroke-width="1.0"/>
<line x1="322.90" y1="360.90" x2="329.30" y2="360.90" stroke="#333" stroke-width="1.4"/>
<line x1="326.10" y1="382.70" x2="326.10" y2="399.40" stroke="#111" stroke-width="1.4"/>
<line x1="322.90" y1="399.40" x2="329.30" y2="399.40" stroke="#111" stroke-width="1.4"/>
<line x1="361.50" y1="290.60" x2="361.50" y2="350.70" stroke="#333" stroke-width="1.0"/>
<line x1="358.30" y1="290.60" x2="364.70" y2="290.60" stroke="#333" stroke-width="1.4"/>
<line x1="361.50" y1="356.30" x2="361.50" y2="415.60" stroke="#111" stroke-width="1.4"/>
<line x1="358.30" y1="415.60" x2="364.70" y2="415.60" stroke="#111" stroke-width="1.4"/>
<line x1="375.50" y1="430.00" x2="375.50" y2="436.70" stroke="#333" stroke-width="1.0"/>
<line x1="372.30" y1="430.00" x2="378.70" y2="430.00" stroke="#333" stroke-width="1.4"/>
<line x1="375.50" y1="442.30" x2="375.50" y2="451.50" stroke="#111" stroke-width="1.4"/>
<line x1="372.30" y1="451.50" x2="378.70" y2="451.50" stroke="#111" stroke-width="1.4"/>
<line x1="395.40" y1="329.60" x2="395.40" y2="369.20" stroke="#333" stroke-width="1.0"/>
<line x1="392.20" y1="329.60" x2="398.60" y2="329.60" stroke="#333" stroke-width="1.4"/>
<line x1="395.40" y1="374.80" x2="395.40" y2="413.30" stroke="#111" stroke-width="1.4"/>
<line x1="392.20" y1="413.30" x2="398.60" y2="413.30" stroke="#111" stroke-width="1.4"/>
<line x1="410.80" y1="405.80" x2="410.80" y2="425.50" stroke="#333" stroke-width="1.0"/>
<line x1="407.60" y1="405.80" x2="414.00" y2="405.80" stroke="#333" stroke-width="1.4"/>
<line x1="410.80" y1="431.10" x2="410.80" y2="450.00" stroke="#111" stroke-width="1.4"/>
<line x1="407.60" y1="450.00" x2="414.00" y2="450.00" stroke="#111" stroke-width="1.4"/>
<rect x="314.90" y="279.90" width="106.30" height="184.50" fill="none" stroke="#000" stroke-width="1.7"/>
<line x1="310.50" y1="462.20" x2="314.90" y2="462.20" stroke="#000" stroke-width="1.5"/>
<text transform="translate(310.20 466.15) scale(1.0 1.04)" font-size="10.0" stroke="#1a1a1a" stroke-width="0.18" text-anchor="end" fill="#1a1a1a">0</text>
<line x1="310.50" y1="419.52" x2="314.90" y2="419.52" stroke="#000" stroke-width="1.5"/>
<text transform="translate(310.20 423.47) scale(1.0 1.04)" font-size="10.0" stroke="#1a1a1a" stroke-width="0.18" text-anchor="end" fill="#1a1a1a">10</text>
<line x1="310.50" y1="376.85" x2="314.90" y2="376.85" stroke="#000" stroke-width="1.5"/>
<text transform="translate(310.20 380.80) scale(1.0 1.04)" font-size="10.0" stroke="#1a1a1a" stroke-width="0.18" text-anchor="end" fill="#1a1a1a">20</text>
<line x1="310.50" y1="334.17" x2="314.90" y2="334.17" stroke="#000" stroke-width="1.5"/>
<text transform="translate(310.20 338.12) scale(1.0 1.04)" font-size="10.0" stroke="#1a1a1a" stroke-width="0.18" text-anchor="end" fill="#1a1a1a">30</text>
<line x1="310.50" y1="291.50" x2="314.90" y2="291.50" stroke="#000" stroke-width="1.5"/>
<text transform="translate(310.20 295.45) scale(1.0 1.04)" font-size="10.0" stroke="#1a1a1a" stroke-width="0.18" text-anchor="end" fill="#1a1a1a">40</text>
<line x1="332.70" y1="464.40" x2="332.70" y2="468.80" stroke="#000" stroke-width="1.4"/>
<text transform="translate(332.50 478.20) scale(1.0 1.08)" font-size="9.7" stroke="#222" stroke-width="0.18" text-anchor="middle" fill="#222">2</text>
<line x1="368.20" y1="464.40" x2="368.20" y2="468.80" stroke="#000" stroke-width="1.4"/>
<text transform="translate(368.80 478.20) scale(1.0 1.08)" font-size="9.7" stroke="#222" stroke-width="0.18" text-anchor="middle" fill="#222">4</text>
<line x1="401.70" y1="464.40" x2="401.70" y2="468.80" stroke="#000" stroke-width="1.4"/>
<text transform="translate(403.40 478.20) scale(1.0 1.08)" font-size="9.7" stroke="#222" stroke-width="0.18" text-anchor="middle" fill="#222">10</text>
<text transform="translate(343.60 427.00) rotate(-90)" font-size="8.4" font-weight="bold" stroke="#000" stroke-width="0.15" text-anchor="middle" fill="#000"><tspan font-style="italic">P</tspan> &lt; .001</text>
<text transform="translate(380.20 408.30) rotate(-90)" font-size="8.4" font-weight="bold" stroke="#000" stroke-width="0.15" text-anchor="middle" fill="#000"><tspan font-style="italic">P</tspan> = .05</text>
<text transform="translate(414.40 386.00) rotate(-90)" font-size="8.4" font-weight="bold" stroke="#000" stroke-width="0.15" text-anchor="middle" fill="#000"><tspan font-style="italic">P</tspan> = .15</text>
<rect x="449.50" y="403.30" width="14.30" height="60.30" fill="#a0a0a0" stroke="#555" stroke-width="1.0"/>
<rect x="463.80" y="446.20" width="14.20" height="17.40" fill="#fff"/>
<path clip-path="url(#c21)" d="M462.80 438.28L479.00 423.22M462.80 448.68L479.00 433.62M462.80 459.08L479.00 444.01M462.80 469.48L479.00 454.41M462.80 479.88L479.00 464.81" stroke="#111" stroke-width="1.1" fill="none"/>
<rect x="463.80" y="446.20" width="14.20" height="17.40" fill="none" stroke="#111" stroke-width="1.0"/>
<rect x="484.60" y="300.50" width="14.20" height="163.10" fill="#a0a0a0" stroke="#555" stroke-width="1.0"/>
<rect x="498.80" y="450.10" width="14.70" height="13.50" fill="#fff"/>
<path clip-path="url(#c22)" d="M497.80 450.34L514.50 434.81M497.80 460.74L514.50 445.21M497.80 471.14L514.50 455.61M497.80 481.54L514.50 466.01" stroke="#111" stroke-width="1.1" fill="none"/>
<rect x="498.80" y="450.10" width="14.70" height="13.50" fill="none" stroke="#111" stroke-width="1.0"/>
<line x1="491.60" y1="292.50" x2="491.60" y2="297.70" stroke="#333" stroke-width="1.0"/>
<line x1="488.40" y1="292.50" x2="494.80" y2="292.50" stroke="#333" stroke-width="1.4"/>
<line x1="491.60" y1="303.30" x2="491.60" y2="308.00" stroke="#111" stroke-width="1.4"/>
<line x1="488.40" y1="308.00" x2="494.80" y2="308.00" stroke="#111" stroke-width="1.4"/>
<rect x="445.60" y="279.90" width="71.70" height="184.60" fill="none" stroke="#000" stroke-width="1.7"/>
<line x1="441.20" y1="462.10" x2="445.60" y2="462.10" stroke="#000" stroke-width="1.5"/>
<text transform="translate(439.00 466.05) scale(1.0 1.04)" font-size="10.0" stroke="#1a1a1a" stroke-width="0.18" text-anchor="end" fill="#1a1a1a">0</text>
<line x1="441.20" y1="386.05" x2="445.60" y2="386.05" stroke="#000" stroke-width="1.5"/>
<text transform="translate(436.30 390.00) scale(1.0 1.04)" font-size="10.0" stroke="#1a1a1a" stroke-width="0.18" text-anchor="end" fill="#1a1a1a">5</text>
<line x1="441.20" y1="310.00" x2="445.60" y2="310.00" stroke="#000" stroke-width="1.5"/>
<text transform="translate(441.50 313.95) scale(1.0 1.04)" font-size="10.0" stroke="#1a1a1a" stroke-width="0.18" text-anchor="end" fill="#1a1a1a">10</text>
<line x1="463.60" y1="464.50" x2="463.60" y2="468.90" stroke="#000" stroke-width="1.4"/>
<text transform="translate(463.10 478.20) scale(1.0 1.08)" font-size="9.7" stroke="#222" stroke-width="0.18" text-anchor="middle" fill="#222">2</text>
<line x1="499.00" y1="464.50" x2="499.00" y2="468.90" stroke="#000" stroke-width="1.4"/>
<text transform="translate(499.60 478.20) scale(1.0 1.08)" font-size="9.7" stroke="#222" stroke-width="0.18" text-anchor="middle" fill="#222">10</text>
<text transform="translate(475.80 426.40) rotate(-90)" font-size="8.4" font-weight="bold" stroke="#000" stroke-width="0.15" text-anchor="middle" fill="#000"><tspan font-style="italic">P</tspan> = .05</text>
<text transform="translate(511.20 424.00) rotate(-90)" font-size="8.4" font-weight="bold" stroke="#000" stroke-width="0.15" text-anchor="middle" fill="#000"><tspan font-style="italic">P</tspan> = .003</text>
</svg>
</body></html>
